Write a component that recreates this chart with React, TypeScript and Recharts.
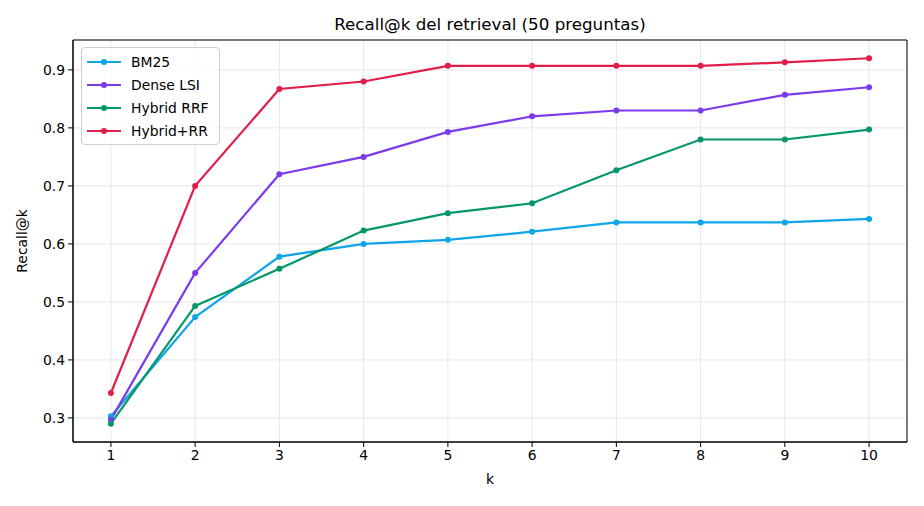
import React from "react"
import {
  LineChart,
  Line,
  XAxis,
  YAxis,
  CartesianGrid,
  ReferenceArea,
} from "recharts"

const kValues = [1, 2, 3, 4, 5, 6, 7, 8, 9, 10]
const bm25 = [0.303, 0.474, 0.578, 0.6, 0.607, 0.621, 0.637, 0.637, 0.637, 0.643]
const denseLsi = [0.297, 0.55, 0.72, 0.75, 0.793, 0.82, 0.83, 0.83, 0.857, 0.87]
const hybridRrf = [0.29, 0.493, 0.557, 0.623, 0.653, 0.67, 0.727, 0.78, 0.78, 0.797]
const hybridRr = [0.343, 0.7, 0.867, 0.88, 0.907, 0.907, 0.907, 0.907, 0.913, 0.92]
const yTicks = [0.3, 0.4, 0.5, 0.6, 0.7, 0.8, 0.9]

const series = [
  { key: "bm25", name: "BM25", color: "#0ea5e9" },
  { key: "dense", name: "Dense LSI", color: "#7c3aed" },
  { key: "rrf", name: "Hybrid RRF", color: "#059669" },
  { key: "rr", name: "Hybrid+RR", color: "#e11d48" },
]

const data = kValues.map((k, i) => ({
  k,
  bm25: bm25[i],
  dense: denseLsi[i],
  rrf: hybridRrf[i],
  rr: hybridRr[i],
}))

const FONT = "'DejaVu Sans', sans-serif"
const X_DOMAIN: [number, number] = [0.55, 10.45]
const Y_DOMAIN: [number, number] = [0.2585, 0.9515]

// legend drawn on top of the plot, like matplotlib's "best" corner
function LegendBox() {
  return (
    <div
      style={{
        position: "absolute",
        left: 81,
        top: 47,
        width: 139,
        boxSizing: "border-box",
        border: "1px solid #d0d0d0",
        borderRadius: 4,
        background: "rgba(255,255,255,0.8)",
        padding: "2px 0 2px 5px",
        fontSize: 13.9,
        color: "#000",
      }}
    >
      {series.map((s) => (
        <div
          key={s.key}
          style={{ display: "flex", alignItems: "center", height: 23 }}
        >
          <svg width={34} height={10} style={{ marginRight: 10 }}>
            <line x1={0} y1={5} x2={34} y2={5} stroke={s.color} strokeWidth={2.2} />
            <circle cx={17} cy={5} r={3} fill={s.color} />
          </svg>
          <span>{s.name}</span>
        </div>
      ))}
    </div>
  )
}

export default function App() {
  return (
    <div
      style={{
        position: "fixed",
        left: 0,
        top: 0,
        width: 924,
        height: 506,
        background: "#fff",
        fontFamily: FONT,
      }}
    >
      <div
        style={{
          position: "absolute",
          left: 73,
          width: 834,
          top: 14,
          textAlign: "center",
          fontSize: 16.7,
        }}
      >
        Recall@k del retrieval (50 preguntas)
      </div>
      <div
        style={{
          position: "absolute",
          left: 73,
          width: 834,
          top: 471,
          textAlign: "center",
          fontSize: 13.9,
        }}
      >
        k
      </div>
      <div
        style={{
          position: "absolute",
          left: 22,
          top: 241,
          transform: "translate(-50%, -50%) rotate(-90deg)",
          fontSize: 13.9,
          whiteSpace: "nowrap",
        }}
      >
        Recall@k
      </div>
      <LineChart
        width={924}
        height={506}
        data={data}
        margin={{ top: 40, right: 17, bottom: 0, left: 0 }}
      >
        <CartesianGrid stroke="#e7e7e7" strokeWidth={1} />
        <XAxis
          dataKey="k"
          type="number"
          domain={X_DOMAIN}
          ticks={kValues}
          allowDataOverflow
          height={64}
          tickSize={5}
          tickMargin={3}
          stroke="#000"
          tick={{ fill: "#000", fontSize: 13.9, fontFamily: FONT }}
        />
        <YAxis
          type="number"
          domain={Y_DOMAIN}
          ticks={yTicks}
          allowDataOverflow
          width={73}
          tickSize={5}
          tickMargin={3}
          stroke="#000"
          tickFormatter={(v: number) => v.toFixed(1)}
          tick={{ fill: "#000", fontSize: 13.9, fontFamily: FONT }}
        />
        <ReferenceArea
          x1={X_DOMAIN[0]}
          x2={X_DOMAIN[1]}
          y1={Y_DOMAIN[0]}
          y2={Y_DOMAIN[1]}
          fill="none"
          stroke="#000"
          strokeWidth={1}
          ifOverflow="visible"
        />
        {series.map((s) => (
          <Line
            key={s.key}
            dataKey={s.key}
            name={s.name}
            stroke={s.color}
            strokeWidth={2.2}
            dot={{ r: 3, fill: s.color, stroke: s.color, strokeWidth: 0 }}
            isAnimationActive={false}
          />
        ))}
      </LineChart>
      <LegendBox />
    </div>
  )
}
